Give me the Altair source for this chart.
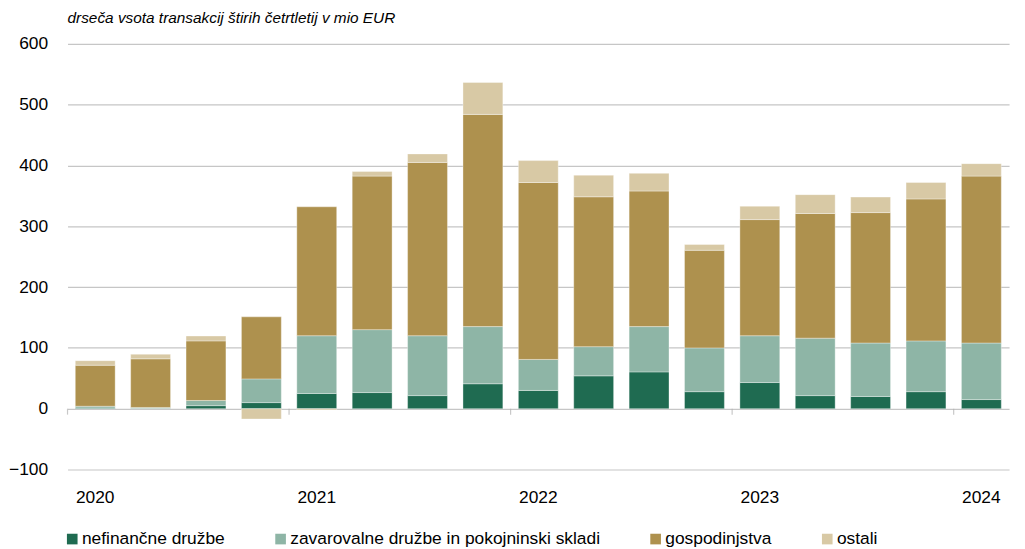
import altair as alt
import pandas as pd

quarters = ["2020Q1", "2020Q2", "2020Q3", "2020Q4",
            "2021Q1", "2021Q2", "2021Q3", "2021Q4",
            "2022Q1", "2022Q2", "2022Q3", "2022Q4",
            "2023Q1", "2023Q2", "2023Q3", "2023Q4",
            "2024Q1"]
year_starts = ["2020Q1", "2021Q1", "2022Q1", "2023Q1", "2024Q1"]

series = ["nefinančne družbe", "zavarovalne družbe in pokojninski skladi",
          "gospodinjstva", "ostali"]
colors = ["#1f6b51", "#8eb5a6", "#ae914e", "#d8c9a5"]

nefinancne = [1, 0.5, 5, 10, 25, 26.5, 21.5, 41, 30, 54, 60.5, 28, 43, 21.5, 20, 28, 15]
zavarovalne = [3, 1.5, 8.5, 39, 95, 103.5, 98.5, 94, 51, 48, 74.5, 72, 77, 94.5, 88, 83.5, 93]
gospodinjstva = [67.5, 80, 98, 102, 212, 252.5, 285, 349, 291, 246.5, 223, 160.5, 191, 205, 214.5, 233.5, 274.5]
ostali = [7.5, 7.5, 8, -17, -2, 7.5, 14, 52.5, 36, 35.5, 29, 9.5, 22, 31, 25.5, 27, 20.5]

y_ticks = [-100, 0, 100, 200, 300, 400, 500, 600]

rows = []
for i, (name, vals) in enumerate(zip(series, [nefinancne, zavarovalne, gospodinjstva, ostali])):
    for q, v in zip(quarters, vals):
        rows.append({"q": q, "s": name, "v": v, "i": i})
df = pd.DataFrame(rows)
ticks_df = pd.DataFrame({"q": year_starts})

FONT = "Liberation Sans"
W, H = 949, 429
PI = 0.28
STEP = W / len(quarters)

bars = alt.Chart(df).mark_bar(stroke="white", strokeWidth=0.7, strokeOpacity=0.5).encode(
    x=alt.X("q:N",
            scale=alt.Scale(domain=quarters, paddingInner=PI, paddingOuter=PI / 2),
            axis=alt.Axis(title=None, values=year_starts,
                          labelExpr="slice(datum.value, 0, 4)",
                          labelAngle=0, domain=False, ticks=False, grid=False,
                          labelPadding=19, labelFontSize=17.5, labelFont=FONT,
                          labelColor="black")),
    y=alt.Y("v:Q", stack="zero",
            scale=alt.Scale(domain=[-100, 600], nice=False, zero=False),
            axis=alt.Axis(title=None, values=y_ticks, domain=False, ticks=False,
                          labelPadding=20, labelFontSize=17.5, labelFont=FONT,
                          labelColor="black", gridColor="#c6c6c6", gridWidth=1.2)),
    color=alt.Color("s:N", scale=alt.Scale(domain=series, range=colors),
                    legend=alt.Legend(title=None, orient="none", legendX=-4, legendY=490,
                                      direction="horizontal", columns=4,
                                      columnPadding=47, symbolType="square",
                                      symbolSize=115, symbolStrokeWidth=0,
                                      labelOffset=1, labelFontSize=17.5,
                                      labelFont=FONT, labelColor="black",
                                      padding=0, labelLimit=500)),
    order=alt.Order("i:Q"),
)

ticks = alt.Chart(ticks_df).mark_tick(
    orient="vertical", size=6, thickness=1.2, color="#b0b0b0",
    xOffset=-STEP / 2, yOffset=3
).encode(
    x=alt.X("q:N"),
    y=alt.datum(0),
)

chart = alt.layer(bars, ticks).properties(
    width=W, height=H,
    title=alt.Title("drseča vsota transakcij štirih četrtletij v mio EUR",
                    anchor="start", frame="group", fontStyle="italic",
                    fontWeight="normal", fontSize=15.5, font=FONT, color="black",
                    baseline="alphabetic", offset=-3),
    autosize=alt.AutoSizeParams(type="none"),
    padding={"left": 60, "top": 34, "right": 8, "bottom": 78},
).configure_view(stroke=None)

chart.save("out.html", embed_options={"renderer": "svg", "actions": False})
